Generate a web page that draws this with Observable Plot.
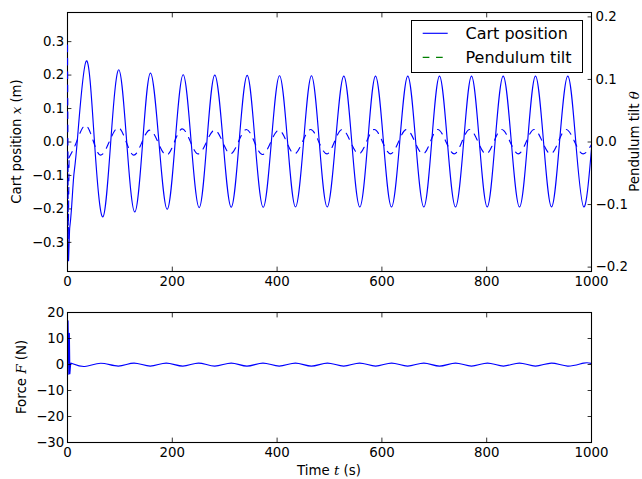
<!DOCTYPE html>
<html>
<head>
<meta charset="utf-8">
<script src="https://cdn.jsdelivr.net/npm/d3@7"></script>
<script src="https://cdn.jsdelivr.net/npm/@observablehq/plot@0.6"></script>
<style>
html, body { margin: 0; padding: 0; background: #fff; }
#chart { position: relative; width: 642px; height: 479px; overflow: hidden; }
#chart svg { position: absolute; left: 0; }
</style>
</head>
<body>
<div id="chart"></div>
<script>
// ---------- tick values ----------
const timeTicks = [0, 200, 400, 600, 800, 1000];
const cartTicks = [-0.3, -0.2, -0.1, 0, 0.1, 0.2, 0.3];
const tiltTicks = [-0.2, -0.1, 0, 0.1, 0.2];
const forceTicks = [-30, -20, -10, 0, 10, 20];

// ---------- cart position x (m) ----------
const cartStartT = [0, 2, 4];
const cartStartX = [-0.27, -0.355, -0.26];
const cartT = [4, 7.6, 12, 18.5, 35.7,
  51.5, 67.4, 82.5, 97.9, 113, 128.4, 143.5, 158.4, 174.5, 190.3, 205.5, 220.8, 236, 251.3,
  266, 281.1, 297, 312.4, 327.5, 342.9, 358, 373.5, 389, 404.6, 420, 435.1, 450.5, 465.6,
  480.5, 495.6, 511.5, 527.3, 542.5, 557.8, 573, 587.8, 603, 618.3, 634, 649.4, 664.5, 680,
  695, 709.9, 725, 740.5, 756, 771, 786, 801, 816, 831.5, 847, 862.6, 878, 893.1, 908.5, 923.7,
  939, 954.8, 970, 985.3, 1000];
const cartX = [-0.26, -0.2, -0.1, 0, 0.242,
  0, -0.224, 0, 0.216, 0, -0.209, 0, 0.206, 0, -0.201, 0, 0.201, 0, -0.196,
  0, 0.200, 0, -0.195, 0, 0.199, 0, -0.195, 0, 0.198, 0, -0.194, 0, 0.198,
  0, -0.194, 0, 0.197, 0, -0.194, 0, 0.197, 0, -0.194, 0, 0.197, 0, -0.194,
  0, 0.197, 0, -0.194, 0, 0.197, 0, -0.194, 0, 0.197, 0, -0.194, 0, 0.197, 0, -0.194,
  0, 0.197, 0, -0.194, -0.02];

// ---------- pendulum tilt theta ----------
const tiltStartT = [0, 1.5, 3];
const tiltStartV = [0.155, -0.156, -0.025];
const tiltT = [3, 11, 34.4,
  63, 97, 126.5, 157, 189, 219, 249.5, 281, 311, 341.5, 372, 403.5, 433, 464, 495, 524,
  556, 585.5, 616.5, 647, 678.5, 706.5, 738, 767.5, 799, 828.5, 860.5, 890.5, 922, 951.5, 984,
  1000];
const tiltV = [-0.025, -0.012, 0.0265,
  -0.021, 0.0228, -0.021, 0.019, -0.021, 0.021, -0.019, 0.019, -0.019, 0.020, -0.020, 0.019,
  -0.019, 0.020, -0.019, 0.020, -0.019, 0.020, -0.019, 0.020, -0.019, 0.020, -0.019, 0.020,
  -0.019, 0.020, -0.019, 0.020, -0.019, 0.020, -0.019,
  -0.004];

// ---------- force F (N) ----------
const forceStartT = [1, 2.5, 3.5, 4.5, 6];
const forceStartF = [16.8, -3.7, 12, -3.5, 0.4];
const forceT = [6, 10, 33,
  63.5, 97, 127, 158, 188.5, 220, 250, 281, 312.5, 342.5, 373, 404, 435, 465.5, 496, 527,
  557.5, 588, 618.5, 649, 680, 710, 740.5, 771, 801.5, 832, 862.5, 893, 923.5, 954.5, 985,
  1000];
const forceF = [0.4, 0.3, -0.75,
  0.5, -0.6, 0.55, -0.6, 0.55, -0.6, 0.55, -0.6, 0.55, -0.6, 0.55, -0.6, 0.55, -0.6, 0.55, -0.6,
  0.55, -0.6, 0.55, -0.6, 0.55, -0.6, 0.55, -0.6, 0.55, -0.6, 0.55, -0.6, 0.55, -0.6, 0.55,
  0.4];

// ---------- legend ----------
const legendLabels = ["Cart position", "Pendulum tilt"];

// ---------- helpers ----------
const zip = (ts, vs) => ts.slice(0, Math.min(ts.length, vs.length)).map((t, i) => ({t, v: vs[i]}));
const blue = "#0000ff";
const green = "#008000";
const sans = "'DejaVu Sans', sans-serif";
const mathFont = "'DejaVu Serif', 'Liberation Serif', serif";
const baseStyle = {fontFamily: sans, fontSize: "13.33px", background: "transparent", color: "black", overflow: "visible"};
const lineOpts = {x: "t", y: "v", stroke: blue, strokeWidth: 1.15, clip: true};
const dash = "6.67,6.67";
const tick = {tickSize: -4.4, strokeWidth: 0.8, label: null};

function addLabel(svg, x, y, rotate, parts) {
  const t = d3.select(svg).append("text")
    .attr("transform", `translate(${x},${y})` + (rotate ? ` rotate(${rotate})` : ""))
    .attr("text-anchor", "middle")
    .attr("font-family", sans)
    .attr("font-size", "13.33px")
    .attr("fill", "black")
    .style("white-space", "pre");
  parts.forEach(p => {
    const s = t.append("tspan").text(p[0]);
    if (p[1]) s.attr("font-family", mathFont).attr("font-style", "italic");
  });
}

const chart = document.getElementById("chart");

// ---------- top: cart position ----------
const cartSvg = Plot.plot({
  width: 642, height: 300, marginTop: 12, marginBottom: 29, marginLeft: 67, marginRight: 51,
  style: baseStyle,
  x: {type: "linear", domain: [0, 1000]},
  y: {type: "linear", domain: [-0.387, 0.387]},
  marks: [
    Plot.line(zip(cartStartT, cartStartX), lineOpts),
    Plot.line(zip(cartT, cartX), {...lineOpts, curve: "natural"}),
    Plot.frame({stroke: "black", strokeWidth: 1.1}),
    Plot.axisX(timeTicks, {...tick, anchor: "bottom", tickPadding: 9.6, tickFormat: d => String(d)}),
    Plot.axisX(timeTicks, {...tick, anchor: "top", tickFormat: () => ""}),
    Plot.axisY(cartTicks, {...tick, anchor: "left", tickPadding: 7.6, tickFormat: d3.format(".1f")})
  ]
});
cartSvg.style.top = "0px";
addLabel(cartSvg, 21.4, 141.5, -90, [["Cart position "], ["x", true], [" (m)"]]);
chart.appendChild(cartSvg);

// ---------- top twin: pendulum tilt ----------
const tiltSvg = Plot.plot({
  width: 642, height: 300, marginTop: 12, marginBottom: 29, marginLeft: 67, marginRight: 51,
  style: baseStyle,
  x: {type: "linear", domain: [0, 1000], axis: null},
  y: {type: "linear", domain: [-0.207, 0.207]},
  marks: [
    Plot.line(zip(tiltStartT, tiltStartV), {...lineOpts, strokeDasharray: dash}),
    Plot.line(zip(tiltT, tiltV), {...lineOpts, strokeDasharray: dash, curve: "monotone-x"}),
    Plot.axisY(tiltTicks, {...tick, anchor: "right", tickPadding: 8.4, tickFormat: d3.format(".1f")})
  ]
});
tiltSvg.style.top = "0px";
addLabel(tiltSvg, 639, 141.5, -90, [["Pendulum tilt "], ["θ", true]]);

// legend
const lg = d3.select(tiltSvg).append("g");
lg.append("rect").attr("x", 411.5).attr("y", 20.5).attr("width", 171).attr("height", 52)
  .attr("fill", "white").attr("stroke", "black").attr("stroke-width", 1);
const legendStyles = [{stroke: blue, dash: null}, {stroke: green, dash: dash}];
legendLabels.forEach((lab, i) => {
  const yy = 33.3 + i * 24;
  const l = lg.append("line").attr("x1", 422.7).attr("x2", 447.7).attr("y1", yy).attr("y2", yy)
    .attr("stroke", legendStyles[i].stroke).attr("stroke-width", 1.15);
  if (legendStyles[i].dash) l.attr("stroke-dasharray", legendStyles[i].dash);
  lg.append("text").attr("x", 465.5).attr("y", yy + 6).attr("font-family", sans)
    .attr("text-anchor", "start")
    .attr("font-size", "16px").attr("fill", "black").text(lab);
});
chart.appendChild(tiltSvg);

// ---------- bottom: force ----------
const forceSvg = Plot.plot({
  width: 642, height: 179, marginTop: 12, marginBottom: 37, marginLeft: 67, marginRight: 51,
  style: baseStyle,
  x: {type: "linear", domain: [0, 1000]},
  y: {type: "linear", domain: [-30, 20]},
  marks: [
    Plot.line(zip(forceStartT, forceStartF), lineOpts),
    Plot.line(zip(forceT, forceF), {...lineOpts, curve: "natural"}),
    Plot.frame({stroke: "black", strokeWidth: 1.1}),
    Plot.axisX(timeTicks, {...tick, anchor: "bottom", tickPadding: 9.6, tickFormat: d => String(d)}),
    Plot.axisX(timeTicks, {...tick, anchor: "top", tickFormat: () => ""}),
    Plot.axisY(forceTicks, {...tick, anchor: "left", tickPadding: 7.6, tickFormat: d3.format("d")}),
    Plot.axisY(forceTicks, {...tick, anchor: "right", tickFormat: () => ""})
  ]
});
forceSvg.style.top = "300px";
addLabel(forceSvg, 25.7, 77, -90, [["Force "], ["F", true], [" (N)"]]);
addLabel(forceSvg, 329, 174.5, 0, [["Time "], ["t", true], [" (s)"]]);
chart.appendChild(forceSvg);
</script>
</body>
</html>
